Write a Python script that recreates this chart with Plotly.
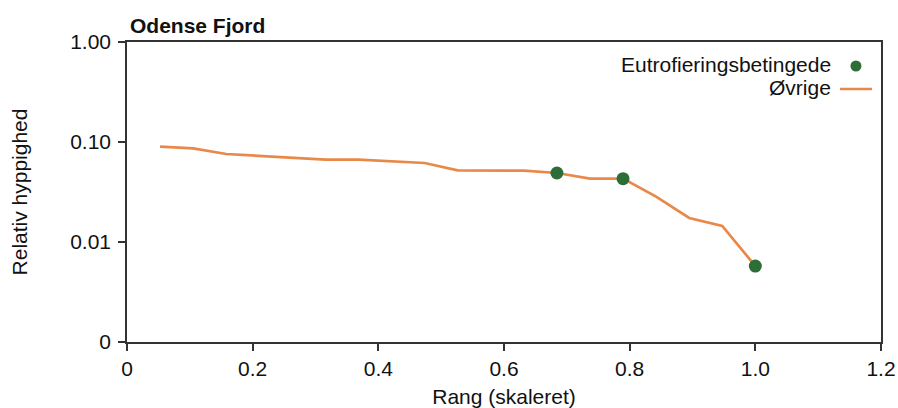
import plotly.graph_objects as go

# Data
rank = [i / 19 for i in range(1, 20)]
rel_freq = [0.0898, 0.0865, 0.0759, 0.0724, 0.0692, 0.0665, 0.0665, 0.0641, 0.0617,
            0.0521, 0.0521, 0.0517, 0.0490, 0.0430, 0.0430, 0.0284, 0.0174, 0.0145, 0.00575]
eutro_idx = [12, 14, 18]
eutro_x = [rank[i] for i in eutro_idx]
eutro_y = [rel_freq[i] for i in eutro_idx]

x_tickvals = [0, 0.2, 0.4, 0.6, 0.8, 1.0, 1.2]
x_ticktext = ["0", "0.2", "0.4", "0.6", "0.8", "1.0", "1.2"]
y_tickvals = [0.001, 0.01, 0.1, 1]
y_ticktext = ["0", "0.01", "0.10", "1.00"]

ORANGE = "#E8894A"
GREEN = "#2D6E37"
FONT = "Liberation Sans, Arial, sans-serif"
FS = 21

fig = go.Figure()
fig.add_trace(go.Scatter(x=rank, y=rel_freq, mode="lines", name="Øvrige",
                         line=dict(color=ORANGE, width=2.7), showlegend=False))
fig.add_trace(go.Scatter(x=eutro_x, y=eutro_y, mode="markers", name="Eutrofieringsbetingede",
                         marker=dict(color=GREEN, size=13), showlegend=False))

axis_common = dict(showline=True, linecolor="#333", linewidth=1.5, mirror=True,
                   ticks="outside", ticklen=7, tickcolor="#333", tickwidth=1.5,
                   showgrid=False, zeroline=False, automargin=False,
                   tickfont=dict(family=FONT, size=FS, color="#111"))

fig.update_xaxes(range=[0, 1.2], tickvals=x_tickvals, ticktext=x_ticktext,
                 title=dict(text="Rang (skaleret)", font=dict(family=FONT, size=FS, color="#111"),
                            standoff=10),
                 **axis_common)
fig.update_yaxes(type="log", range=[-3, 0], tickvals=y_tickvals, ticktext=y_ticktext,
                 ticklabelstandoff=3,
                 title=dict(text="Relativ hyppighed", font=dict(family=FONT, size=FS, color="#111"),
                            standoff=37),
                 **axis_common)

# Legend (text right-aligned, key on the right as in the reference)
fig.add_annotation(xref="paper", yref="paper", x=0.9363, y=0.925, xanchor="right", yanchor="middle",
                   text="Eutrofieringsbetingede", showarrow=False,
                   font=dict(family=FONT, size=FS, color="#111"))
fig.add_annotation(xref="paper", yref="paper", x=0.9363, y=0.848, xanchor="right", yanchor="middle",
                   text="Øvrige", showarrow=False,
                   font=dict(family=FONT, size=FS, color="#111"))
fig.add_shape(type="circle", xref="paper", yref="paper", xsizemode="pixel", ysizemode="pixel",
              xanchor=0.9668, yanchor=0.92, x0=-5.5, x1=5.5, y0=-5.5, y1=5.5,
              fillcolor=GREEN, line=dict(color=GREEN, width=0))
fig.add_shape(type="line", xref="paper", yref="paper", x0=0.9456, x1=0.9881, y0=0.8433, y1=0.8433,
              line=dict(color=ORANGE, width=2.7))

fig.update_layout(
    width=898, height=408,
    margin=dict(l=127, r=17, t=42, b=66),
    paper_bgcolor="white", plot_bgcolor="white",
    font=dict(family=FONT, size=FS, color="#111"),
    title=dict(text="<b>Odense Fjord</b>", x=130 / 898, xanchor="left", xref="container",
               y=1 - 26 / 408, yanchor="middle", yref="container",
               font=dict(family=FONT, size=FS, color="#111")),
    showlegend=False,
)

fig.write_html(
    "out.html",
    config={"displayModeBar": False},
    post_script="document.body.style.margin='0';document.documentElement.style.overflow='hidden';",
)
